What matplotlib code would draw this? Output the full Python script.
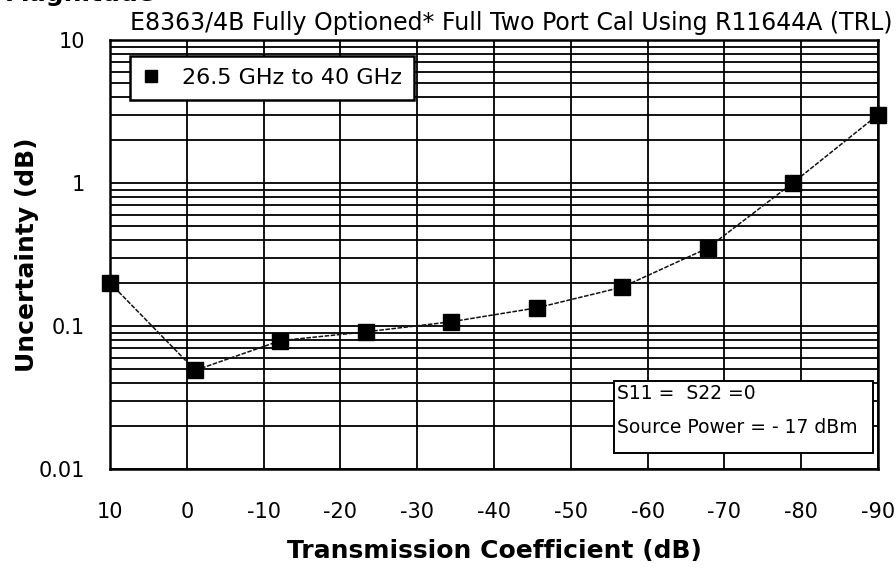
import numpy as np
import matplotlib
matplotlib.use('Agg')
from matplotlib import pyplot as plt
from matplotlib.patches import Rectangle
from matplotlib.ticker import LogLocator, NullFormatter, FixedLocator

# data
trans_db = [10, -1.1, -12.2, -23.3, -34.4, -45.6, -56.7, -67.8, -78.9, -90]
uncert_db = [0.20, 0.049, 0.079, 0.091, 0.107, 0.134, 0.187, 0.35, 1.0, 3.0]
x_ticks = [10, 0, -10, -20, -30, -40, -50, -60, -70, -80, -90]
x_ticklabels = ['10', '0', '-10', '-20', '-30', '-40', '-50', '-60', '-70', '-80', '-90']
y_ticks = [0.01, 0.1, 1, 10]
y_ticklabels = ['0.01', '0.1', '1', '10']

title = 'E8363/4B Fully Optioned* Full Two Port Cal Using R11644A (TRL)'
series_name = '26.5 GHz to 40 GHz'
note_lines = ['S11 =  S22 =0', 'Source Power = - 17 dBm']

plt.rcParams['font.family'] = ['DejaVu Sans']

fig = plt.figure(figsize=(8.96, 5.68), dpi=100, facecolor='w')
ax = fig.add_axes([110/896, 1-469/568, 768/896, 429/568])

ax.plot(trans_db, uncert_db, color='#111111', lw=1.1, dashes=(3, 1), zorder=3)
ax.plot(trans_db, uncert_db, ls='none', marker='s', ms=11, color='black',
        clip_on=False, zorder=4, label=series_name)

ax.set_yscale('log')
ax.set_ylim(0.01, 10)
ax.set_xlim(10, -90)

ax.xaxis.set_major_locator(FixedLocator(x_ticks))
ax.set_xticklabels(x_ticklabels)
ax.yaxis.set_major_locator(FixedLocator(y_ticks))
ax.set_yticklabels(y_ticklabels)
ax.yaxis.set_minor_locator(LogLocator(base=10, subs=np.arange(2, 10)))
ax.yaxis.set_minor_formatter(NullFormatter())

ax.grid(True, which='both', color='black', lw=1.3)
ax.tick_params(which='both', length=0, labelsize=15)
ax.tick_params(axis='x', pad=24)
ax.tick_params(axis='y', pad=18)
for s in ax.spines.values():
    s.set_linewidth(1.8)
    s.set_color('black')

ax.set_xlabel('Transmission Coefficient (dB)', fontsize=18, fontweight='bold', labelpad=12)
ax.set_ylabel('Uncertainty (dB)', fontsize=18, fontweight='bold', labelpad=0)

fig.text(0.571, 0.96, title, ha='center', va='center', fontsize=17)
# heading above the chart, cut off at the top edge as in the original
fig.text(0.005, 0.998, 'Magnitude', ha='left', va='baseline', fontsize=18, fontweight='bold')

leg = ax.legend(loc='upper left', bbox_to_anchor=(20/768, 1-16/429), fontsize=16,
                frameon=True, fancybox=False, borderpad=0.55, borderaxespad=0,
                handlelength=0.8, handletextpad=1.0, markerscale=0.75)
leg.get_frame().set_edgecolor('black')
leg.get_frame().set_linewidth(1.8)
leg.get_frame().set_alpha(1)

# note box, lower right
ax.add_patch(Rectangle((0.656, 0.0373), 0.3375, 0.168, transform=ax.transAxes,
                       fc='white', ec='black', lw=1.4, zorder=6, clip_on=False))
ax.text(0.66, 0.177, note_lines[0], transform=ax.transAxes, ha='left', va='center',
        fontsize=13.5, zorder=7)
ax.text(0.66, 0.0956, note_lines[1], transform=ax.transAxes, ha='left', va='center',
        fontsize=13.5, zorder=7)

fig.savefig('out.png', dpi=100, facecolor='w')
